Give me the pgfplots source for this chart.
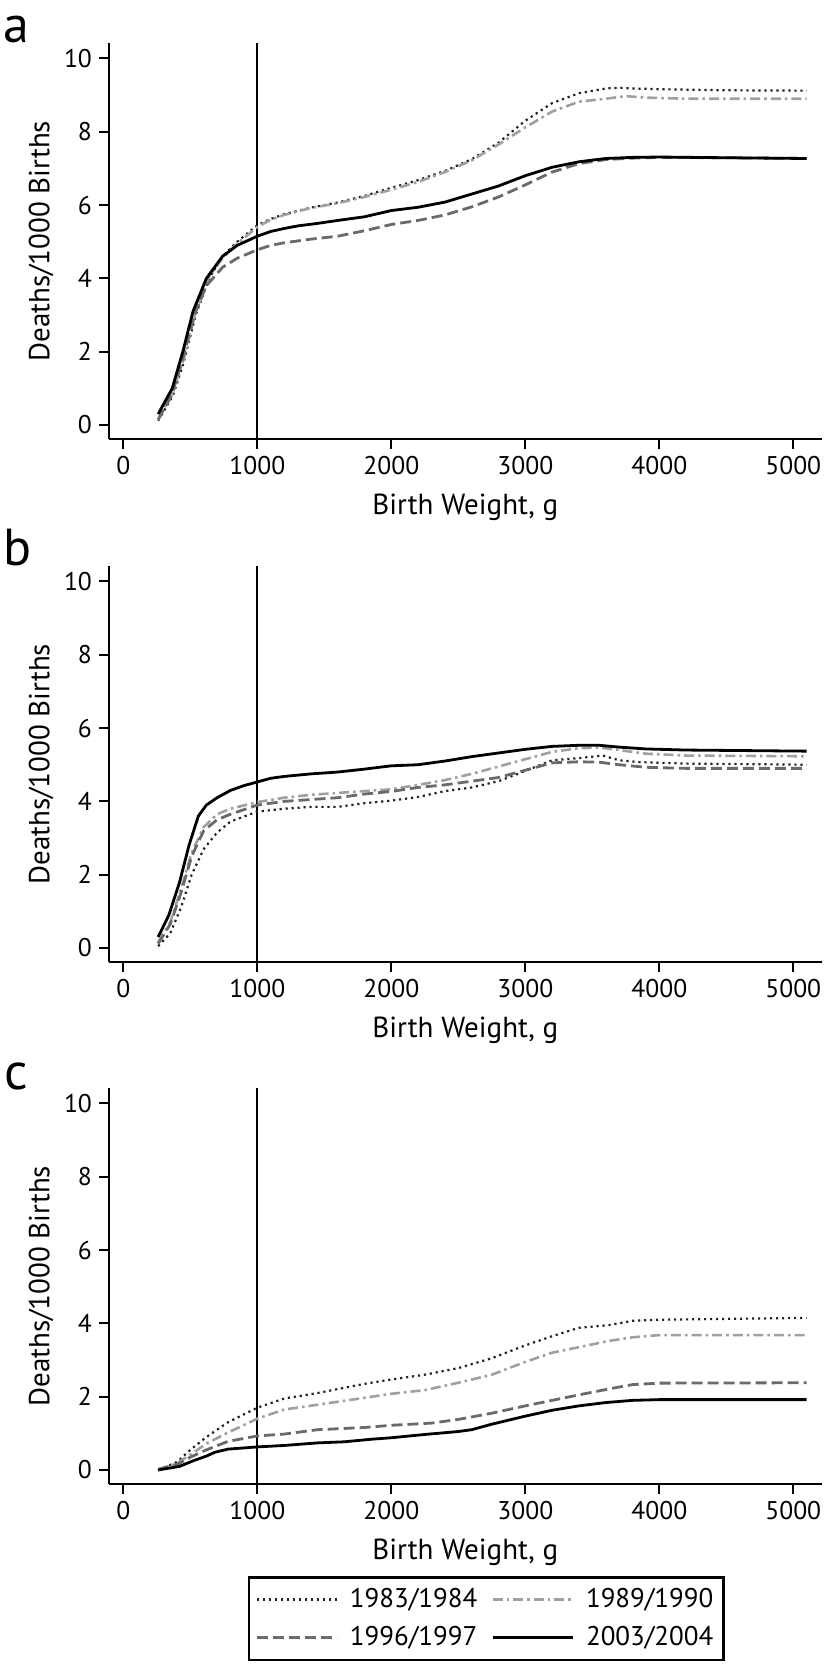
\documentclass[border=0pt]{standalone}
\usepackage{fontspec}
\setmainfont{PT Sans}
\usepackage{pgfplots}
\pgfplotsset{compat=1.18}
\definecolor{cdot}{HTML}{222222}
\definecolor{cdd}{HTML}{A0A0A0}
\definecolor{cdash}{HTML}{6A6A6A}
\pgfplotsset{
  myax/.style={
    scale only axis, width=356.35pt, height=198.15pt,
    xmin=-107, xmax=5212, ymin=-0.39, ymax=10.42,
    axis x line=bottom, axis y line=left,
    axis line style={-, line width=1pt, black},
    xtick={0,1000,...,5000}, ytick={0,2,...,10},
    tick align=outside, major tick length=5pt,
    tick style={line width=1pt, black},
    /pgf/number format/1000 sep={},
    /pgf/number format/assume math mode=true,
    scaled x ticks=false,
    tick label style={font=\fontsize{12.8}{14}\selectfont},
    xlabel={Birth Weight, g},
    ylabel={Deaths/1000 Births},
    every axis x label/.style={at={(axis description cs:0.5,-0.172)}, anchor=center, font=\fontsize{14.5}{16}\selectfont},
    every axis y label/.style={at={(axis description cs:-0.0954,0.5)}, rotate=90, anchor=center, font=\fontsize{14.5}{16}\selectfont},
    clip=false,
  },
  sdot/.style={color=cdot, line width=1.1pt, dash pattern=on 1.1pt off 1.9pt},
  sdd/.style={color=cdd, line width=1.3pt, dash pattern=on 5pt off 2pt on 1.3pt off 2pt},
  sdash/.style={color=cdash, line width=1.4pt, dash pattern=on 5.5pt off 2.5pt},
  ssol/.style={color=black, line width=1.4pt},
  vline/.style={black, line width=0.9pt, forget plot},
}
\begin{document}
\begin{tikzpicture}
\path (0,0) rectangle (413pt,-833pt);
\node[anchor=base west, font=\fontsize{26}{26}\selectfont, inner sep=0pt] at (1.5pt,-21pt) {a};
\node[anchor=base west, font=\fontsize{26}{26}\selectfont, inner sep=0pt] at (1.5pt,-282.5pt) {b};
\node[anchor=base west, font=\fontsize{26}{26}\selectfont, inner sep=0pt] at (2pt,-544.5pt) {c};
% ---------------- panel a
\begin{axis}[myax, at={(54.5pt,-21.5pt)}, anchor=north west]
\addplot[vline] coordinates {(1000,-0.39) (1000,10.42)};
\addplot[sdot] coordinates {(260,0.12)(370,0.8)(450,1.7)(540,3.0)(640,4.0)(740,4.6)(850,5.0)(1000,5.45)(1100,5.62)(1200,5.75)(1400,5.93)(1600,6.07)(1800,6.25)(2000,6.47)(2200,6.68)(2400,6.93)(2600,7.25)(2800,7.7)(3000,8.3)(3200,8.78)(3400,9.05)(3600,9.18)(3700,9.2)(3800,9.18)(4000,9.16)(4500,9.13)(5100,9.12)};
\addplot[sdd] coordinates {(260,0.15)(370,0.9)(450,1.8)(540,3.1)(640,4.05)(740,4.55)(850,4.95)(1000,5.4)(1100,5.6)(1200,5.73)(1400,5.92)(1600,6.05)(1800,6.22)(2000,6.42)(2200,6.63)(2400,6.9)(2600,7.22)(2800,7.65)(3000,8.12)(3200,8.55)(3400,8.82)(3600,8.9)(3750,8.97)(3900,8.93)(4200,8.9)(5100,8.9)};
\addplot[sdash] coordinates {(260,0.15)(360,0.8)(450,1.9)(530,3.0)(620,3.8)(740,4.3)(850,4.55)(1000,4.78)(1100,4.9)(1200,4.97)(1400,5.07)(1600,5.15)(1800,5.3)(2000,5.47)(2200,5.58)(2400,5.73)(2600,5.95)(2800,6.22)(3000,6.55)(3200,6.9)(3400,7.13)(3600,7.24)(3800,7.28)(4000,7.3)(4500,7.29)(5100,7.27)};
\addplot[ssol] coordinates {(260,0.3)(365,1.0)(444,2.0)(520,3.1)(620,4.0)(740,4.6)(850,4.9)(1000,5.15)(1100,5.28)(1200,5.36)(1300,5.43)(1450,5.5)(1600,5.58)(1800,5.68)(2000,5.85)(2200,5.94)(2400,6.08)(2600,6.3)(2800,6.52)(3000,6.8)(3200,7.03)(3400,7.18)(3600,7.27)(3800,7.3)(4000,7.31)(4500,7.29)(5100,7.27)};
\end{axis}
% ---------------- panel b
\begin{axis}[myax, at={(54.5pt,-283pt)}, anchor=north west]
\addplot[vline] coordinates {(1000,-0.39) (1000,10.42)};
\addplot[sdot] coordinates {(260,0.05)(350,0.4)(430,1.1)(510,2.0)(600,2.7)(700,3.15)(800,3.45)(1000,3.72)(1200,3.8)(1400,3.85)(1600,3.85)(1800,3.95)(2000,4.02)(2200,4.12)(2400,4.28)(2600,4.38)(2800,4.55)(3000,4.83)(3200,5.12)(3400,5.18)(3580,5.25)(3700,5.12)(3850,5.07)(4200,5.03)(5100,5.0)};
\addplot[sdd] coordinates {(260,0.15)(350,0.7)(430,1.6)(510,2.6)(600,3.3)(700,3.65)(800,3.8)(1000,3.98)(1200,4.1)(1400,4.18)(1600,4.23)(1800,4.28)(2000,4.33)(2200,4.45)(2400,4.58)(2600,4.75)(2800,4.95)(3000,5.15)(3200,5.35)(3400,5.45)(3550,5.47)(3700,5.4)(3900,5.3)(4200,5.25)(5100,5.23)};
\addplot[sdash] coordinates {(260,0.12)(350,0.65)(430,1.5)(510,2.5)(600,3.2)(700,3.5)(800,3.65)(1000,3.9)(1200,4.0)(1400,4.05)(1600,4.1)(1800,4.2)(2000,4.27)(2200,4.38)(2400,4.45)(2600,4.55)(2800,4.65)(3000,4.85)(3200,5.05)(3400,5.08)(3550,5.07)(3700,5.0)(3900,4.93)(4200,4.9)(5100,4.9)};
\addplot[ssol] coordinates {(260,0.3)(340,0.9)(420,1.8)(490,2.8)(560,3.6)(620,3.9)(700,4.1)(800,4.3)(900,4.43)(1000,4.53)(1100,4.63)(1200,4.68)(1400,4.75)(1600,4.8)(1800,4.88)(2000,4.97)(2200,5.0)(2400,5.1)(2600,5.22)(2800,5.32)(3000,5.42)(3200,5.5)(3400,5.53)(3550,5.53)(3700,5.48)(3900,5.43)(4200,5.4)(5100,5.37)};
\end{axis}
% ---------------- panel c
\begin{axis}[myax, at={(54.5pt,-544pt)}, anchor=north west,
  legend columns=2,
  legend cell align=left,
  legend image code/.code={\draw[#1] (0pt,0pt) -- (40pt,0pt); \path (44pt,0pt);},
  legend style={at={(axis description cs:0.195,-0.446)}, anchor=south west,
    draw=black, line width=1.2pt, font=\fontsize{13.5}{15}\selectfont,
    inner xsep=3pt, inner ysep=3.5pt, row sep=4pt,
    /tikz/every even column/.append style={column sep=5pt}},
]
\addplot[vline] coordinates {(1000,-0.39) (1000,10.42)};
\addplot[sdot] coordinates {(260,0.0)(400,0.22)(500,0.55)(620,0.9)(780,1.3)(1000,1.7)(1200,1.95)(1450,2.1)(1800,2.35)(2000,2.47)(2250,2.6)(2500,2.78)(2750,3.05)(3000,3.4)(3200,3.65)(3400,3.88)(3620,3.95)(3800,4.07)(4000,4.1)(5100,4.15)};
\addlegendentry{1983/1984}
\addplot[sdd] coordinates {(260,0.02)(400,0.18)(500,0.42)(620,0.72)(780,1.02)(1000,1.4)(1200,1.65)(1450,1.78)(1800,1.97)(2000,2.08)(2250,2.18)(2500,2.38)(2750,2.6)(3000,2.95)(3200,3.2)(3400,3.35)(3620,3.52)(3800,3.62)(4000,3.68)(5100,3.68)};
\addlegendentry{1989/1990}
\addplot[sdash] coordinates {(260,0.02)(400,0.15)(500,0.35)(620,0.55)(780,0.78)(1000,0.93)(1200,0.98)(1450,1.1)(1800,1.16)(2000,1.22)(2300,1.28)(2500,1.38)(2750,1.55)(3000,1.75)(3200,1.9)(3400,2.05)(3650,2.23)(3800,2.33)(4000,2.37)(5100,2.38)};
\addlegendentry{1996/1997}
\addplot[ssol] coordinates {(260,0.0)(420,0.1)(520,0.25)(620,0.38)(680,0.48)(780,0.57)(1000,0.63)(1200,0.67)(1450,0.74)(1650,0.77)(1850,0.84)(2000,0.88)(2250,0.97)(2500,1.05)(2600,1.1)(2750,1.25)(3000,1.47)(3200,1.63)(3400,1.75)(3600,1.84)(3800,1.9)(4000,1.92)(5100,1.92)};
\addlegendentry{2003/2004}
\end{axis}
\end{tikzpicture}
\end{document}
